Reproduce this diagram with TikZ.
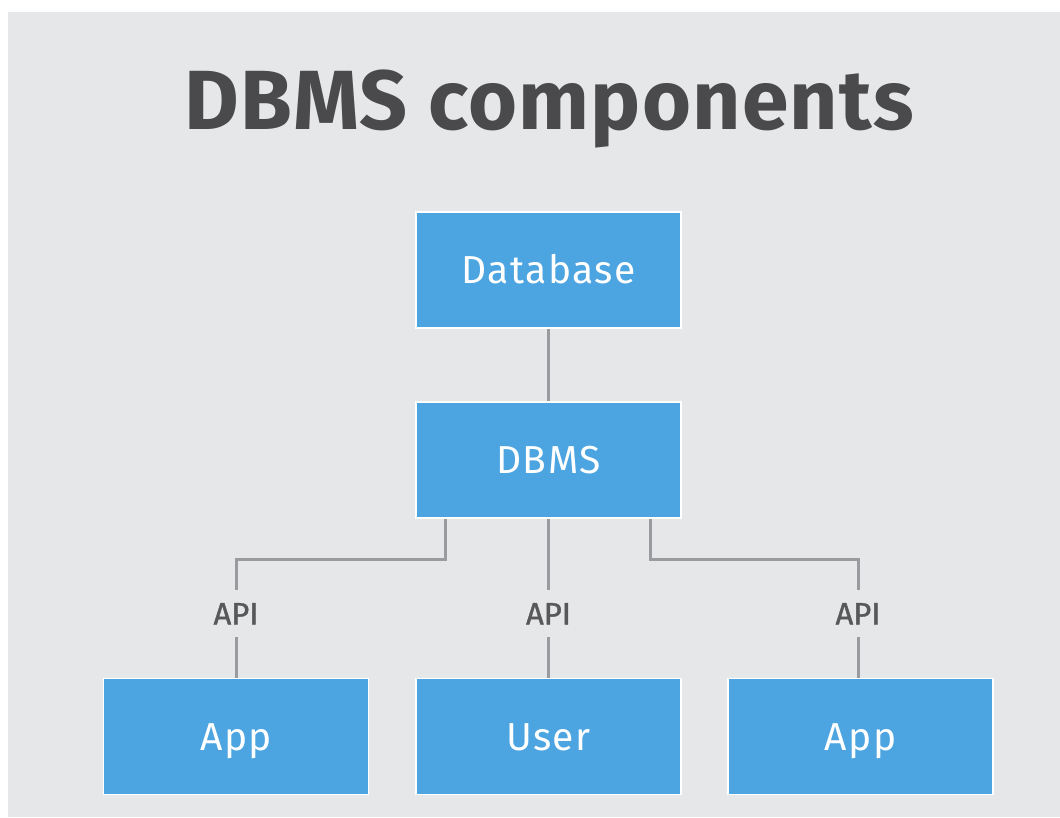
\documentclass[tikz,border=0pt]{standalone}
\usepackage{fontspec}
\setmainfont{Fira Sans}
\newfontfamily\boxfont[LetterSpace=3.5]{Fira Sans}
\newfontfamily\titlefont[LetterSpace=1.5]{Fira Sans}
\newfontfamily\apifont[FakeBold=1.2]{Fira Sans}
\definecolor{bgc}{HTML}{E6E7E9}
\definecolor{boxc}{HTML}{4CA4E1}
\definecolor{linec}{HTML}{9A9B9F}
\definecolor{titlec}{HTML}{4A4A4C}
\definecolor{apic}{HTML}{58585A}
\begin{document}
\begin{tikzpicture}[x=1pt,y=-1pt,
  box/.style={fill=boxc,draw=white,line width=1.5pt,minimum width=265pt,minimum height=116pt,inner sep=0pt,text height=27pt,text depth=0pt,text=white,font=\boxfont\fontsize{39}{44}\selectfont},
  apilabel/.style={minimum height=47pt,inner sep=0pt,text height=22pt,text depth=0pt,text=apic,font=\apifont\fontsize{31}{36}\selectfont},
  conn/.style={draw=linec,line width=3pt}]
\fill[white] (0,0) rectangle (1060,817);
\useasboundingbox (0,0) rectangle (1060,817);
\fill[bgc] (8,12) rectangle (1060,817);
\node[anchor=base,text=titlec,font=\titlefont\fontsize{84}{90}\selectfont\bfseries,inner sep=0pt] (title) at (549,129) {DBMS components};
\node[box] (db) at (548.5,270) {Database};
\node[box] (dbms) at (548.5,460) {DBMS};
\node[box] (app1) at (236,736.5) {App};
\node[box] (user) at (548.5,736.5) {User};
\node[box] (app2) at (860.5,736.5) {App};
\node[apilabel] (api1) at (236,613.5) {API};
\node[apilabel] (api2) at (548.5,613.5) {API};
\node[apilabel] (api3) at (858,613.5) {API};
\draw[conn] (db.south) -- (dbms.north);
\draw[conn] ([xshift=-103.5pt]dbms.south) -- ++(0,41) -| (api1.north);
\draw[conn] (dbms.south) -- (api2.north);
\draw[conn] ([xshift=101.5pt]dbms.south) -- ++(0,41) -| (api3.north);
\draw[conn] (api1.south) -- (api1.south |- app1.north);
\draw[conn] (api2.south) -- (user.north);
\draw[conn] (api3.south) -- (api3.south |- app2.north);
\end{tikzpicture}
\end{document}
